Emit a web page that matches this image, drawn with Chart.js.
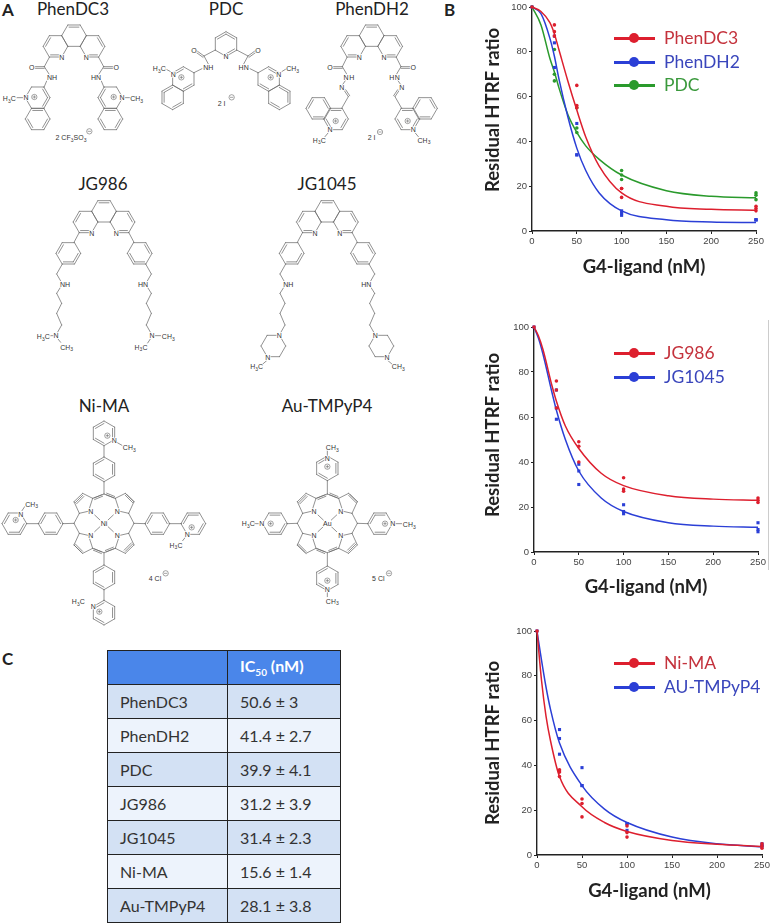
<!DOCTYPE html>
<html>
<head>
<meta charset="utf-8">
<script src="https://cdn.jsdelivr.net/npm/chart.js@4"></script>
<style>
  html, body { margin: 0; padding: 0; background: #fff; }
  body { position: relative; width: 771px; height: 923px; overflow: hidden; font-family: Lato, sans-serif; }
  canvas { position: absolute; }
  #structures { position: absolute; left: 0; top: 0; width: 771px; height: 923px; }
  .panel { position: absolute; font-weight: bold; font-size: 17px; color: #222; line-height: 17px; }
  .name { position: absolute; font-size: 17px; color: #222; line-height: 20px; transform: translateX(-50%); white-space: nowrap; }
  .legendLine { position: absolute; left: 614px; width: 41px; height: 2.5px; }
  .legendDot { position: absolute; left: 629px; width: 10px; height: 10px; border-radius: 50%; }
  .legendText { position: absolute; left: 664px; font-size: 17.5px; line-height: 20px; white-space: nowrap; }
  #sideLine { position: absolute; left: 768px; top: 320px; width: 1px; height: 250px; background: #ccc; }
  table { position: absolute; left: 107px; top: 650px; width: 234px; border-collapse: collapse; table-layout: fixed; font-size: 16px; color: #333; }
  td, th { height: 34px; padding: 0 0 0 12px; border: 1.3px solid #222; text-align: left; box-sizing: border-box; }
  th { background: #4a86ea; color: #fff; font-weight: bold; }
  tr.odd td { background: #d3e1f4; }
  tr.even td { background: #edf3fc; }
  sub { font-size: 10px; }
</style>
</head>
<body>
<svg id="structures" viewBox="0 0 2313 2769"></svg>

<div class="panel" style="left:2px;top:1px">A</div>
<div class="panel" style="left:444px;top:1px">B</div>
<div class="panel" style="left:2px;top:650px">C</div>

<div class="name" style="left:73px;top:-1px">PhenDC3</div>
<div class="name" style="left:226px;top:-1px">PDC</div>
<div class="name" style="left:372px;top:-1px">PhenDH2</div>
<div class="name" style="left:103px;top:174px">JG986</div>
<div class="name" style="left:327px;top:174px">JG1045</div>
<div class="name" style="left:104px;top:396px">Ni-MA</div>
<div class="name" style="left:327px;top:396px">Au-TMPyP4</div>

<canvas id="chartB1"></canvas>
<canvas id="chartB2"></canvas>
<canvas id="chartB3"></canvas>
<div id="legends"></div>
<div id="sideLine"></div>

<table id="icTable"></table>

<script>
// ---------- data ----------
let replicateDoses = [0, 25, 25, 25, 50, 50, 50, 100, 100, 100, 250, 250, 250]
let xTicksStep = 50
let yTicksStep = 20

// panel B top
let fitXTop = [0, 10, 20, 25, 30, 40, 50, 60, 75, 100, 150, 200, 250]
let phenDC3Fit = [100, 98, 93, 88, 81, 67, 54, 42, 29, 17, 11, 9.7, 9.3]
let phenDH2Fit = [100, 97, 86, 78, 68, 51, 37, 27, 17, 9, 5, 4, 3.8]
let pdcFit = [100, 92, 77, 71, 64, 52, 44, 38, 32, 25, 18, 15.5, 14.8]
let phenDC3Points = [100, 92, 89, 87, 65, 56, 55, 19, 19, 15, 9, 10, 11]
let phenDH2Points = [100, 87, 84, 73, 48, 34, 34, 9, 8, 7, 5, 5, 5]
let pdcPoints = [100, 81, 70, 67, 55, 46, 44, 27, 25, 23, 17, 16, 14]

// panel B middle
let fitXMid = [0, 5, 10, 20, 25, 35, 50, 75, 100, 150, 200, 250]
let jg986Fit = [100, 96, 90, 74, 67, 56, 46, 35, 29.5, 25, 23.5, 23]
let jg1045Fit = [100, 95, 88, 71, 63, 50, 36, 24, 18, 13, 11.5, 11]
let jg986Points = [100, 76, 72, 64, 49, 47, 40, 33, 28, 27, 24, 23, 22]
let jg1045Points = [100, 72, 64, 59, 39, 36, 30, 21, 18, 17, 13, 10, 9]

// panel B bottom
let fitXBot = [0, 5, 10, 15, 25, 50, 75, 100, 150, 200, 250]
let niMaFit = [100, 78, 62, 51, 35, 21.5, 14.5, 10.5, 6.5, 4.8, 3.8]
let auTmpFit = [100, 87, 75, 65, 50, 31, 20.5, 14.5, 8, 5, 3.7]
let niMaPoints = [100, 38, 37, 35, 25, 23, 17, 13, 10, 8, 5, 4, 3]
let auTmpPoints = [100, 56, 52, 45, 39, 31, 31, 14, 14, 11, 5, 4, 4]

// panel C
let tableNames = ["PhenDC3", "PhenDH2", "PDC", "JG986", "JG1045", "Ni-MA", "Au-TMPyP4"]
let tableValues = ["50.6 ± 3", "41.4 ± 2.7", "39.9 ± 4.1", "31.2 ± 3.9", "31.4 ± 2.3", "15.6 ± 1.4", "28.1 ± 3.8"]

let RED = "#dd1f2e"
let BLUE = "#2b3fd6"
let GREEN = "#2a9a2c"

// ---------- charts ----------
function series(color, xs, fit, points, pointShape) {
  return [
    {
      data: xs.map((x, i) => ({ x: x, y: fit[i] })),
      showLine: true,
      borderColor: color,
      borderWidth: 1.5,
      pointRadius: 0,
      cubicInterpolationMode: "monotone",
      clip: false,
    },
    {
      data: replicateDoses.map((x, i) => ({ x: x, y: points[i] })),
      showLine: false,
      backgroundColor: color,
      borderColor: color,
      borderWidth: 0,
      pointStyle: pointShape,
      pointRadius: pointShape == "rect" ? 2.2 : 1.8,
      clip: false,
    },
  ]
}

function makeChart(id, box, datasets) {
  let leftRoom = 62
  let topRoom = 8
  let rightRoom = 14
  let bottomRoom = 55
  let canvas = document.getElementById(id)
  canvas.style.left = box.x0 - leftRoom + "px"
  canvas.style.top = box.y100 - topRoom + "px"
  canvas.width = box.x250 - box.x0 + leftRoom + rightRoom
  canvas.height = box.y0 - box.y100 + topRoom + bottomRoom

  new Chart(canvas, {
    type: "scatter",
    data: { datasets: datasets },
    options: {
      responsive: false,
      animation: false,
      layout: { padding: { top: topRoom, right: rightRoom, left: 0, bottom: 0 } },
      plugins: { legend: { display: false }, tooltip: { enabled: false } },
      scales: {
        x: {
          type: "linear",
          min: 0,
          max: 250,
          afterFit: (scale) => { scale.height = bottomRoom },
          grid: { drawOnChartArea: false, tickLength: 3, color: "#222" },
          border: { color: "#222", width: 1.4 },
          ticks: { stepSize: xTicksStep, maxRotation: 0, padding: 2, color: "#444", font: { family: "Liberation Sans", size: 9.5 } },
          title: { display: true, text: "G4-ligand (nM)", color: "#222", padding: { top: 0, bottom: box.xTitleGap }, font: { family: "Lato", size: 18.5, weight: "bold" } },
        },
        y: {
          min: 0,
          max: 100,
          afterFit: (scale) => { scale.width = leftRoom },
          grid: { drawOnChartArea: false, tickLength: 3, color: "#222" },
          border: { color: "#222", width: 1.4 },
          ticks: { stepSize: yTicksStep, padding: 2, color: "#444", font: { family: "Liberation Sans", size: 9.5 } },
          title: { display: true, text: box.yShift + "Residual HTRF ratio", color: "#222", padding: { top: box.yTitleGap, bottom: 0 }, font: { family: "Lato", size: 18.5, weight: "bold" } },
        },
      },
    },
  })
}

makeChart("chartB1", { x0: 532, x250: 756, y100: 7, y0: 231, xTitleGap: 8, yTitleGap: 12, yShift: "    " }, [
  ...series(RED, fitXTop, phenDC3Fit, phenDC3Points, "circle"),
  ...series(BLUE, fitXTop, phenDH2Fit, phenDH2Points, "rect"),
  ...series(GREEN, fitXTop, pdcFit, pdcPoints, "circle"),
])
makeChart("chartB2", { x0: 534, x250: 758, y100: 327, y0: 552, xTitleGap: 9, yTitleGap: 10, yShift: "  " }, [
  ...series(RED, fitXMid, jg986Fit, jg986Points, "circle"),
  ...series(BLUE, fitXMid, jg1045Fit, jg1045Points, "rect"),
])
makeChart("chartB3", { x0: 537, x250: 762, y100: 631, y0: 855, xTitleGap: 8, yTitleGap: 7, yShift: "" }, [
  ...series(RED, fitXBot, niMaFit, niMaPoints, "circle"),
  ...series(BLUE, fitXBot, auTmpFit, auTmpPoints, "rect"),
])

// ---------- legends ----------
function addLegend(label, color, textColor, y) {
  document.getElementById("legends").innerHTML += `
    <div class="legendLine" style="top:${y - 1}px;background:${color}"></div>
    <div class="legendDot" style="top:${y - 5}px;background:${color}"></div>
    <div class="legendText" style="top:${y - 10}px;color:${textColor}">${label}</div>`
}
addLegend("PhenDC3", RED, "#c4323c", 38)
addLegend("PhenDH2", BLUE, "#3a46bc", 62)
addLegend("PDC", GREEN, "#3a993c", 85)
addLegend("JG986", RED, "#c4323c", 353)
addLegend("JG1045", BLUE, "#3a46bc", 377)
addLegend("Ni-MA", RED, "#c4323c", 663)
addLegend("AU-TMPyP4", BLUE, "#3a46bc", 687)

// ---------- table ----------
let tableHtml = `<tr><th style="width:120px"></th><th>IC<sub>50</sub> (nM)</th></tr>`
tableNames.forEach((name, index) => {
  tableHtml += `<tr class="${index % 2 == 0 ? "odd" : "even"}"><td>${name}</td><td>${tableValues[index]}</td></tr>`
})
document.getElementById("icTable").innerHTML = tableHtml

// ---------- chemical structures (drawn in 3x picture units) ----------
let bonds = []
let labels = []
let same = (x) => x

function bond(x1, y1, x2, y2, m = same) {
  bonds.push(`<line x1="${m(x1)}" y1="${y1}" x2="${m(x2)}" y2="${y2}"/>`)
}
function chain(points, m = same) {
  for (let i = 0; i < points.length - 1; i++) {
    bond(points[i][0], points[i][1], points[i + 1][0], points[i + 1][1], m)
  }
}
function doubleBond(x1, y1, x2, y2, m = same) {
  bond(x1, y1, x2, y2, m)
  let len = Math.hypot(x2 - x1, y2 - y1)
  let nx = ((y2 - y1) / len) * 5
  let ny = (-(x2 - x1) / len) * 5
  bond(x1 + nx, y1 + ny, x2 + nx, y2 + ny, m)
}
function ring(cx, cy, flat, doubles, m = same, s = 37) {
  let pts = []
  for (let i = 0; i < 6; i++) {
    let a = ((flat ? 0 : 30) + i * 60) * (Math.PI / 180)
    pts.push([cx + s * Math.cos(a), cy + s * Math.sin(a)])
  }
  pts.forEach((p, i) => {
    let q = pts[(i + 1) % 6]
    bond(p[0], p[1], q[0], q[1], m)
    if (doubles.includes(i)) {
      let k = 0.8
      let ax = cx + (p[0] - cx) * k, ay = cy + (p[1] - cy) * k
      let bx = cx + (q[0] - cx) * k, by = cy + (q[1] - cy) * k
      bond(ax, ay, bx, by, m)
    }
  })
}
function label(x, y, text, size = 21) {
  let body = text.replace(/3/g, `<tspan dy="5" font-size="${size * 0.72}">3</tspan><tspan dy="-5">\u200b</tspan>`)
  labels.push(`<text x="${x}" y="${y + size * 0.36}" font-size="${size}">${body}</text>`)
}
function charge(x, y, plus = true) {
  labels.push(`<circle cx="${x}" cy="${y}" r="8"/>`)
  labels.push(`<path d="M${x - 5} ${y}H${x + 5}${plus ? `M${x} ${y - 5}V${y + 5}` : ""}"/>`)
}
function bothSides(axis, drawSide) {
  drawSide(same, 0)
  drawSide((x) => 2 * axis - x, 1)
}
function phenCore(cx, cy) {
  ring(cx, cy, true, [4])
  bothSides(cx, (m, side) => {
    ring(cx - 55.5, cy + 32, true, [3, 1], m)
    label(m(cx - 37), cy + 65, "N")
  })
}

// PhenDC3
phenCore(222, 107)
bothSides(222, (m, side) => {
  chain([[148, 172], [133, 200], [147, 222]], m)
  doubleBond(133, 200, 105, 200, m)
  label(m(95), 201, "O")
  label(m(156), 232, side ? "HN" : "NH")
  chain([[140, 243], [132, 262]], m)
  ring(113, 293, true, [0, 5], m)
  ring(113, 357, true, [0, 4, 2], m)
  label(m(78), 293, "N")
  charge(m(103), 291)
})
label(28, 296, "H3C")
bond(50, 293, 68, 293)
label(410, 296, "CH3")
bond(375, 293, 392, 293)
label(213, 412, "2 CF3SO3")
charge(268, 394, false)

// PDC
ring(678, 132, false, [3, 0, 4])
label(678, 169, "N")
bothSides(678, (m, side) => {
  chain([[646, 150], [612, 168], [625, 192]], m)
  doubleBond(612, 168, 590, 152, m)
  label(m(582), 151, "O")
  label(m(625), 203, side ? "HN" : "NH")
  chain([[606, 206], [582, 218]], m)
  ring(550, 237, false, [0, 3], m)
  ring(518, 292, false, [0, 2, 3], m)
  label(m(520), 222, "N")
  charge(m(544), 232)
})
label(478, 205, "H3C")
bond(497, 207, 512, 215)
label(878, 205, "CH3")
bond(845, 215, 858, 207)
label(665, 311, "2 I")
charge(695, 292, false)

// PhenDH2
phenCore(1115, 107)
bothSides(1115, (m, side) => {
  chain([[1041, 172], [1027, 200], [1040, 222]], m)
  doubleBond(1027, 200, 1000, 200, m)
  label(m(990), 201, "O")
  label(m(1055), 232, side ? "H" : "H")
  label(m(1038), 232, "N")
  chain([[1036, 242], [1027, 255]], m)
  label(m(1025), 263, "N")
  doubleBond(1033, 272, 1045, 290, m)
  chain([[1045, 290], [1025, 325]], m)
  ring(955, 325, true, [1, 3, 5], m)
  ring(1008, 357, true, [0, 4, 2], m)
  label(m(990), 388, "N")
  charge(m(1007), 363)
  chain([[985, 398], [975, 410]], m)
})
label(958, 420, "H3C")
label(1272, 420, "CH3")
label(1115, 411, "2 I")
charge(1140, 396, false)

// JG986 and JG1045 share the same upper half
function jgUpper(axis, ringX, y0) {
  phenCore(axis, y0 + 124)
  bothSides(axis, (m, side) => {
    chain([[axis - 74, y0 + 187], [ringX + 17, y0 + 217]], m)
    ring(ringX, y0 + 250, true, [0, 1, 3], m)
    chain([[ringX - 18, y0 + 282], [ringX - 35, y0 + 312], [ringX - 23, y0 + 333]], m)
    label(m(ringX - 10), y0 + 342, side ? "HN" : "NH")
    chain([[ringX - 23, y0 + 351], [ringX - 35, y0 + 370], [ringX - 20, y0 + 400], [ringX - 35, y0 + 430], [ringX - 20, y0 + 465], [ringX - 33, y0 + 488]], m)
  })
}
jgUpper(312, 205, 510)
label(168, 1007, "N")
label(130, 1009, "H3C")
bond(146, 1007, 160, 1007)
chain([[174, 1017], [182, 1027]])
label(200, 1041, "CH3")
label(456, 1007, "N")
label(505, 1009, "CH3")
bond(465, 1007, 482, 1007)
chain([[451, 1017], [443, 1029]])
label(423, 1041, "H3C")

jgUpper(982, 875, 510)
bothSides(982, (m, side) => {
  ring(820, 1038, true, [], m)
  label(m(838), 1007, "N")
  label(m(803), 1072, "N")
  chain([[800, 1082], [785, 1095]], m)
})
label(770, 1100, "H3C")
label(1195, 1100, "CH3")

// porphyrin core, the four quarters are reflections of one
function porphyrin(cx, cy, metal) {
  let signs = [[1, 1], [-1, 1], [1, -1], [-1, -1]]
  signs.forEach((sg, index) => {
    let px = (d) => cx + d * sg[0]
    let py = (d) => cy + d * sg[1]
    let quarter = [[0, -88], [-34, -75], [-64, -90], [-90, -65], [-74, -30], [-90, 0]]
    chain(quarter.map((p) => [px(p[0]), py(p[1])]))
    chain([[px(-34), py(-75)], [px(-44), py(-44)]])
    chain([[px(-74), py(-30)], [px(-48), py(-36)]])
    bond(px(-28), py(-25), px(-12), py(-10))
    doubleBond(px(-6), py(-86), px(-30), py(-76))
    doubleBond(px(-64), py(-84), px(-86), py(-62))
    label(px(-40), py(-35), "N")
  })
  label(cx, cy, metal)
}

// Ni-MA
porphyrin(312, 1570, "Ni")
bond(312, 1482, 312, 1445)
ring(312, 1408, false, [3, 5, 1])
bond(312, 1371, 312, 1338)
ring(312, 1300, false, [3, 5, 1])
label(343, 1322, "N")
label(388, 1342, "CH3")
bond(352, 1328, 366, 1336)
charge(322, 1307)
bond(222, 1570, 187, 1571)
ring(152, 1571, true, [1, 3, 5])
bond(117, 1571, 80, 1571)
ring(43, 1571, true, [0, 1, 3])
label(62, 1542, "N")
label(95, 1512, "CH3")
bond(66, 1532, 74, 1520)
charge(47, 1560)
bond(402, 1570, 437, 1571)
ring(472, 1571, true, [1, 3, 5])
bond(507, 1571, 545, 1571)
ring(580, 1571, true, [3, 4, 0])
label(562, 1602, "N")
label(528, 1635, "H3C")
bond(556, 1612, 548, 1622)
charge(575, 1582)
bond(312, 1660, 312, 1695)
ring(312, 1732, false, [3, 5, 1])
bond(312, 1769, 312, 1802)
ring(312, 1838, false, [3, 5, 1])
label(280, 1820, "N")
label(235, 1805, "H3C")
charge(298, 1835)
label(465, 1736, "4 Cl")
charge(497, 1720, false)

// Au-TMPyP4
porphyrin(982, 1570, "Au")
bond(982, 1482, 982, 1442)
ring(982, 1405, false, [3, 5, 1])
label(982, 1375, "N")
label(997, 1342, "CH3")
bond(982, 1365, 982, 1352)
charge(982, 1400)
bond(892, 1570, 860, 1571)
ring(825, 1571, true, [0, 1, 4])
label(785, 1571, "N")
label(745, 1571, "H3C")
bond(763, 1571, 775, 1571)
charge(812, 1571)
bond(1072, 1570, 1105, 1571)
ring(1140, 1571, true, [3, 1, 4])
label(1178, 1571, "N")
label(1228, 1573, "CH3")
bond(1187, 1571, 1205, 1571)
charge(1155, 1571)
bond(982, 1660, 982, 1698)
ring(982, 1735, false, [3, 5, 1])
label(982, 1767, "N")
label(997, 1803, "CH3")
bond(982, 1777, 982, 1790)
charge(982, 1742)
label(1135, 1736, "5 Cl")
charge(1167, 1720, false)

document.getElementById("structures").innerHTML = `
  <g stroke="#6a6a6a" stroke-width="2.2" stroke-linecap="round" fill="none">${bonds.join("")}</g>
  <g font-family="Liberation Sans" fill="#333" stroke="none" text-anchor="middle" class="lab">${labels.join("")}</g>`
document.querySelectorAll("#structures .lab text").forEach((t) => {
  t.setAttribute("paint-order", "stroke")
  t.setAttribute("stroke", "#fff")
  t.setAttribute("stroke-width", "5")
})
document.querySelectorAll("#structures .lab circle, #structures .lab path").forEach((c) => {
  c.setAttribute("fill", "none")
  c.setAttribute("stroke", "#555")
  c.setAttribute("stroke-width", "1.6")
})
</script>
</body>
</html>
